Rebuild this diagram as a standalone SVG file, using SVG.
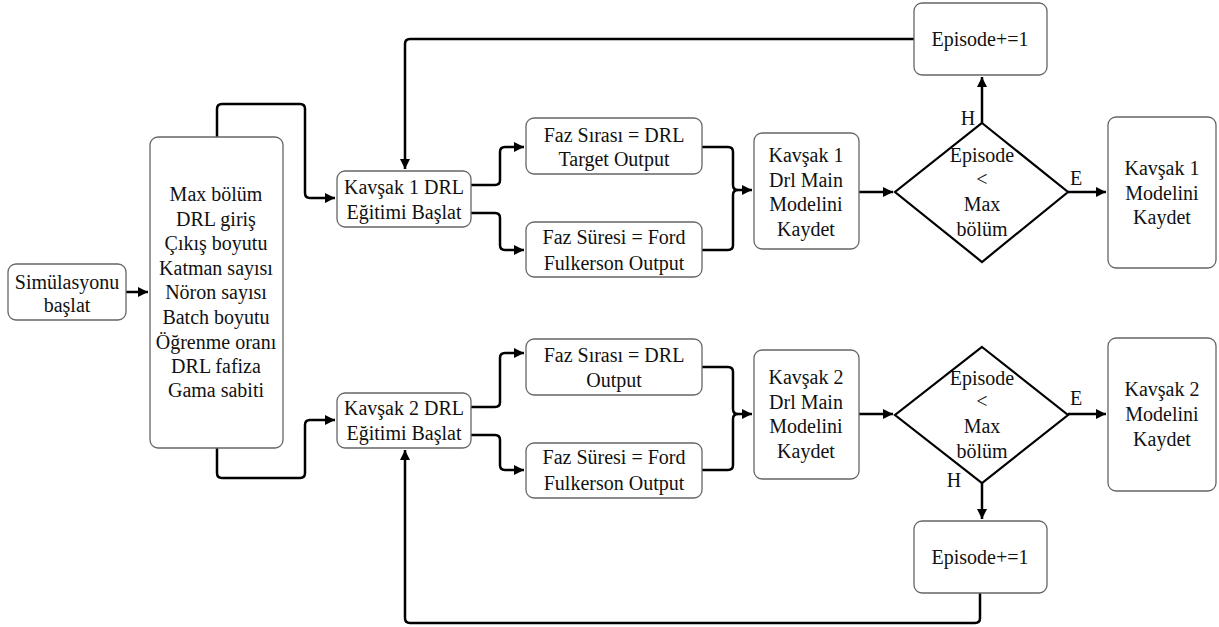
<svg xmlns="http://www.w3.org/2000/svg" width="1219" height="627" viewBox="0 0 1219 627" font-family="'Liberation Serif', 'Times New Roman', 'DejaVu Serif', serif">
<style>
.box{fill:#fff;stroke:#666;stroke-width:1.3}
.dia{fill:#fff;stroke:#000;stroke-width:2.2}
.c{fill:none;stroke:#000;stroke-width:2.5;stroke-linejoin:round}
text{font-family:'Liberation Serif','Times New Roman','DejaVu Serif',serif;font-size:20px;fill:#111;text-anchor:middle}
</style>
<defs>
<marker id="ah" viewBox="0 0 10 10" refX="10" refY="5" markerWidth="4" markerHeight="4" orient="auto" markerUnits="strokeWidth">
<path d="M0,0 L10,5 L0,10 z" fill="#000"/>
</marker>
</defs>
<g id="connectors">
<path class="c" d="M126,292 L148,292" marker-end="url(#ah)"/>
<path class="c" d="M217,137 L217,109 Q217,104 222,104 L300,104 Q305,104 305,109 L305,193 Q305,198 310,198 L335,198" marker-end="url(#ah)"/>
<path class="c" d="M217,448 L217,473 Q217,478 222,478 L300,478 Q305,478 305,473 L305,425 Q305,420 310,420 L335,420" marker-end="url(#ah)"/>
<path class="c" d="M471,185 L495,185 Q500,185 500,180 L500,152 Q500,147 505,147 L524,147" marker-end="url(#ah)"/>
<path class="c" d="M471,213 L495,213 Q500,213 500,218 L500,245 Q500,250 505,250 L524,250" marker-end="url(#ah)"/>
<path class="c" d="M702,147 L728,147 Q733,147 733,152 L733,185 Q733,190 738,190 L752,190" marker-end="url(#ah)"/>
<path class="c" d="M702,250 L728,250 Q733,250 733,245 L733,195 Q733,190 738,190"/>
<path class="c" d="M471,407 L495,407 Q500,407 500,402 L500,358 Q500,353 505,353 L524,353" marker-end="url(#ah)"/>
<path class="c" d="M471,435 L495,435 Q500,435 500,440 L500,465 Q500,470 505,470 L524,470" marker-end="url(#ah)"/>
<path class="c" d="M702,367 L728,367 Q733,367 733,372 L733,409 Q733,414 738,414 L752,414" marker-end="url(#ah)"/>
<path class="c" d="M702,470 L728,470 Q733,470 733,465 L733,419 Q733,414 738,414"/>
<path class="c" d="M859,192 L893,192" marker-end="url(#ah)"/>
<path class="c" d="M1068,192 L1106,192" marker-end="url(#ah)"/>
<path class="c" d="M982,123 L982,77" marker-end="url(#ah)"/>
<path class="c" d="M914,39 L410,39 Q405,39 405,44 L405,169" marker-end="url(#ah)"/>
<path class="c" d="M859,414 L893,414" marker-end="url(#ah)"/>
<path class="c" d="M1068,414 L1106,414" marker-end="url(#ah)"/>
<path class="c" d="M982,483 L982,519" marker-end="url(#ah)"/>
<path class="c" d="M980,593 L980,618 Q980,623 975,623 L410,623 Q405,623 405,618 L405,450" marker-end="url(#ah)"/>
<text x="968" y="125">H</text>
<text x="1076" y="185">E</text>
<text x="1076" y="405">E</text>
<text x="954" y="487">H</text>
</g>
<g id="start">
<rect class="box" x="8" y="264" width="118" height="56" rx="8"/>
<text x="67" y="289">Simülasyonu</text>
<text x="67" y="312">başlat</text>
</g>
<g id="params">
<rect class="box" x="150" y="137" width="133" height="311" rx="8"/>
<text x="216" y="201">Max bölüm</text>
<text x="216" y="226">DRL giriş</text>
<text x="216" y="250">Çıkış boyutu</text>
<text x="216" y="275">Katman sayısı</text>
<text x="216" y="299">Nöron sayısı</text>
<text x="216" y="324">Batch boyutu</text>
<text x="216" y="349">Öğrenme oranı</text>
<text x="216" y="373">DRL fafiza</text>
<text x="216" y="397">Gama sabiti</text>
</g>
<g id="k1drl">
<rect class="box" x="337" y="171" width="134" height="56" rx="8"/>
<text x="404" y="194">Kavşak 1 DRL</text>
<text x="404" y="219">Eğitimi Başlat</text>
</g>
<g id="k1faz1">
<rect class="box" x="526" y="118" width="176" height="56" rx="8"/>
<text x="614" y="142">Faz Sırası = DRL</text>
<text x="614" y="166">Target Output</text>
</g>
<g id="k1faz2">
<rect class="box" x="526" y="222" width="176" height="55" rx="8"/>
<text x="614" y="244">Faz Süresi = Ford</text>
<text x="614" y="270">Fulkerson Output</text>
</g>
<g id="k1main">
<rect class="box" x="754" y="133" width="105" height="116" rx="8"/>
<text x="806" y="162">Kavşak 1</text>
<text x="806" y="187">Drl Main</text>
<text x="806" y="211">Modelini</text>
<text x="806" y="236">Kaydet</text>
</g>
<g id="k1dec">
<polygon class="dia" points="982,123 1068,192 982,262 895,192"/>
<text x="982" y="162">Episode</text>
<text x="982" y="186">&lt;</text>
<text x="982" y="211">Max</text>
<text x="982" y="236">bölüm</text>
</g>
<g id="k1ep">
<rect class="box" x="914" y="3" width="133" height="72" rx="8"/>
<text x="980" y="46">Episode+=1</text>
</g>
<g id="k1save">
<rect class="box" x="1108" y="117" width="108" height="151" rx="8"/>
<text x="1162" y="175">Kavşak 1</text>
<text x="1162" y="200">Modelini</text>
<text x="1162" y="224">Kaydet</text>
</g>
<g id="k2drl">
<rect class="box" x="337" y="393" width="134" height="55" rx="8"/>
<text x="404" y="415">Kavşak 2 DRL</text>
<text x="404" y="440">Eğitimi Başlat</text>
</g>
<g id="k2faz1">
<rect class="box" x="526" y="339" width="176" height="56" rx="8"/>
<text x="614" y="362">Faz Sırası = DRL</text>
<text x="614" y="387">Output</text>
</g>
<g id="k2faz2">
<rect class="box" x="526" y="443" width="176" height="55" rx="8"/>
<text x="614" y="464">Faz Süresi = Ford</text>
<text x="614" y="490">Fulkerson Output</text>
</g>
<g id="k2main">
<rect class="box" x="754" y="350" width="105" height="129" rx="8"/>
<text x="806" y="384">Kavşak 2</text>
<text x="806" y="409">Drl Main</text>
<text x="806" y="433">Modelini</text>
<text x="806" y="458">Kaydet</text>
</g>
<g id="k2dec">
<polygon class="dia" points="982,347 1068,415 982,483 895,415"/>
<text x="982" y="385">Episode</text>
<text x="982" y="408">&lt;</text>
<text x="982" y="433">Max</text>
<text x="982" y="458">bölüm</text>
</g>
<g id="k2ep">
<rect class="box" x="914" y="521" width="133" height="72" rx="8"/>
<text x="980" y="564">Episode+=1</text>
</g>
<g id="k2save">
<rect class="box" x="1108" y="338" width="108" height="153" rx="8"/>
<text x="1162" y="396">Kavşak 2</text>
<text x="1162" y="421">Modelini</text>
<text x="1162" y="446">Kaydet</text>
</g>
</svg>
